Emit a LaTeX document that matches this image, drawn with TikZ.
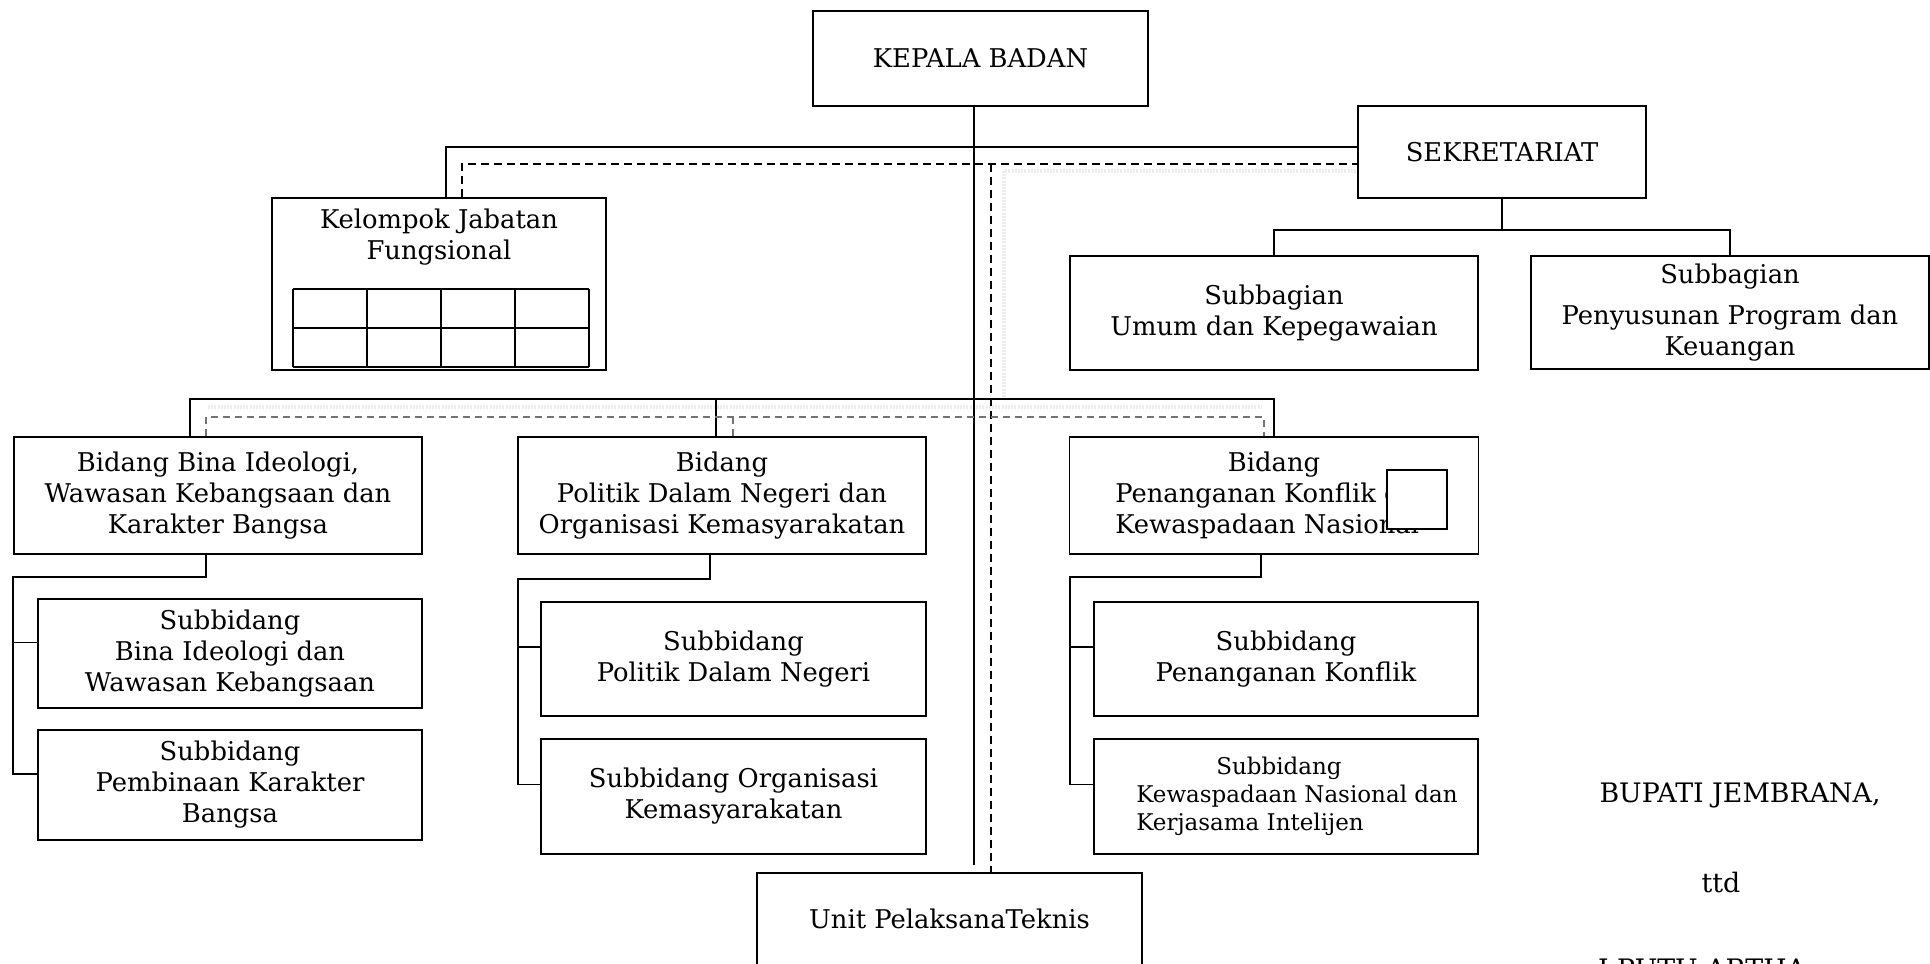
\documentclass[tikz,border=0pt]{standalone}
\usepackage{fontspec}
\usepackage{calc}
\setmainfont{DejaVu Serif}
\usetikzlibrary{calc}
\tikzset{
    box/.style={draw, line width=.9pt, align=center, inner sep=1pt, font=\fontsize{12.9}{15.5}\selectfont},
    small/.style={font=\fontsize{11.5}{14}\selectfont},
    link/.style={line width=.8pt},
    dashlink/.style={line width=.8pt, dash pattern=on 4pt off 2.5pt},
    greylink/.style={line width=.8pt, black!55, dash pattern=on 3.5pt off 2.5pt},
    halo/.style={line width=2pt, black!7, dash pattern=on 1pt off .6pt},
    sign/.style={font=\fontsize{13.4}{16}\selectfont, inner sep=0pt},
}
\begin{document}
\begin{tikzpicture}[x=0.5pt, y=-0.5pt]
\useasboundingbox (0,0) rectangle (1930,963);

% bayangan garis koordinasi
\coordinate (h1) at (1004,171);
\draw[halo] (h1 |- 0,397) -- (h1) -- (1356,171);
\draw[halo] (208,407) -- (1262,407);

% pimpinan dan sekretariat
\node[box, minimum width=167.5pt, minimum height=47.5pt] (kepala) at (980.5,58.5) {KEPALA BADAN};
\node[box, minimum width=144pt, minimum height=46pt] (sek) at (1502,152) {SEKRETARIAT};
\node[box, minimum width=204pt, minimum height=57pt] (umum) at (1274,313) {Subbagian\\Umum dan Kepegawaian};
\node[box, minimum width=199pt, minimum height=56.5pt] (penyusunan) at (1730,312.5) {Subbagian\\[5pt]Penyusunan Program dan\\Keuangan};

% kelompok jabatan fungsional
\node[box, minimum width=167pt, minimum height=86pt] (kjf) at (439,284) {};
\node[box, draw=none] (kjftext) at (439,237.5) {Kelompok Jabatan\\Fungsional};
\foreach \i in {0,...,4}
{
    \draw[line width=.6pt] (293+74*\i,289) -- (293+74*\i,367);
}
\foreach \j in {289,328,367}
{
    \draw[line width=.6pt] (293,\j) -- (589,\j);
}

% bidang
\node[box, minimum width=204pt, minimum height=58.5pt] (bid1) at (218,495.5) {Bidang Bina Ideologi,\\Wawasan Kebangsaan dan\\Karakter Bangsa};
\node[box, minimum width=204pt, minimum height=58.5pt] (bid2) at (722,495.5) {Bidang\\Politik Dalam Negeri dan\\Organisasi Kemasyarakatan};
\node[box, minimum width=204.5pt, minimum height=58.5pt] (bid3) at (1274,495.5) {Bidang\\Penanganan Konflik dan\\\makebox[\widthof{Penanganan Konflik dan}][l]{Kewaspadaan Nasional}};
\node[draw, fill=white, line width=.9pt, minimum width=30pt, minimum height=29.5pt, inner sep=0pt] (cover) at (1417,499.5) {};

% subbidang
\node[box, minimum width=192pt, minimum height=54.5pt] (sub1a) at (230,653.5) {Subbidang\\Bina Ideologi dan\\Wawasan Kebangsaan};
\node[box, minimum width=192pt, minimum height=55pt] (sub1b) at (230,785) {Subbidang\\Pembinaan Karakter\\Bangsa};
\node[box, minimum width=192.5pt, minimum height=57pt] (sub2a) at (733.5,659) {Subbidang\\Politik Dalam Negeri};
\node[box, minimum width=192.5pt, minimum height=57.5pt] (sub2b) at (733.5,796.5) {Subbidang Organisasi\\Kemasyarakatan};
\node[box, minimum width=192pt, minimum height=57pt] (sub3a) at (1286,659) {Subbidang\\Penanganan Konflik};
\node[box, small, align=left, minimum width=192pt, minimum height=57.5pt] (sub3b) at (1286,796.5) {\hspace*{51pt}Subbidang\\\hspace*{11pt}Kewaspadaan Nasional dan\\\hspace*{11pt}Kerjasama Intelijen};

\node[box, minimum width=192.5pt, minimum height=46pt] (unit) at (949.5,919) {Unit PelaksanaTeknis};

% garis komando
\coordinate (spine) at (974,865);
\draw[link] (kepala.south -| spine) -- (spine);
\coordinate (tb) at (446,147);
\draw[link] (kjf.north -| tb) -- (tb) -- (tb -| sek.west);
\coordinate (sb) at (1502,230);
\draw[link] (sek.south) -- (sb);
\draw[link] (umum.north) |- (sb) -| (penyusunan.north);
\coordinate (bb) at (190,399);
\draw[link] (bid1.north -| bb) -- (bb) -- (bb -| bid3.north) -- (bid3.north);
\draw[link] ($(bid2.north)+(-6,0)$) -- ($(bid2.north |- bb)+(-6,0)$);

% garis koordinasi
\coordinate (td) at (462,164);
\coordinate (dv) at (991,164);
\draw[dashlink] (kjf.north -| td) -- (td) -- (td -| sek.west);
\draw[dashlink] (dv) -- (unit.north -| dv);
\coordinate (gb) at (206,417);
\draw[greylink] (bid1.north -| gb) -- (gb) -- ($(gb -| bid3.north)+(-10,0)$) -- ($(bid3.north)+(-10,0)$);
\draw[greylink] ($(bid2.north)+(11,0)$) -- ($(bid2.north |- gb)+(11,0)$);

% bidang ke subbidang
\coordinate (c1) at (13,577);
\draw[link] (bid1.south -| gb) |- (c1) -- ($(sub1b.west -| c1)+(0,-11)$) -- ($(sub1b.west)+(0,-11)$);
\draw[link] ($(sub1a.west -| c1)+(0,-11)$) -- ($(sub1a.west)+(0,-11)$);
\coordinate (c2) at (518,579);
\draw[link] ($(bid2.south)+(-12,0)$) |- (c2) -- ($(sub2b.west -| c2)+(0,-12)$) -- ($(sub2b.west)+(0,-12)$);
\draw[link] ($(sub2a.west -| c2)+(0,-12)$) -- ($(sub2a.west)+(0,-12)$);
\coordinate (c3) at (1070,577);
\draw[link] ($(bid3.south)+(-13,0)$) |- (c3) -- ($(sub3b.west -| c3)+(0,-12)$) -- ($(sub3b.west)+(0,-12)$);
\draw[link] ($(sub3a.west -| c3)+(0,-12)$) -- ($(sub3a.west)+(0,-12)$);

% pengesahan
\node[sign] (bupati) at (1740,796) {BUPATI JEMBRANA,};
\node[sign] (ttd) at (1721,882) {ttd};
\node[sign, anchor=base] (nama) at (1702,978) {I PUTU ARTHA};
\end{tikzpicture}
\end{document}
